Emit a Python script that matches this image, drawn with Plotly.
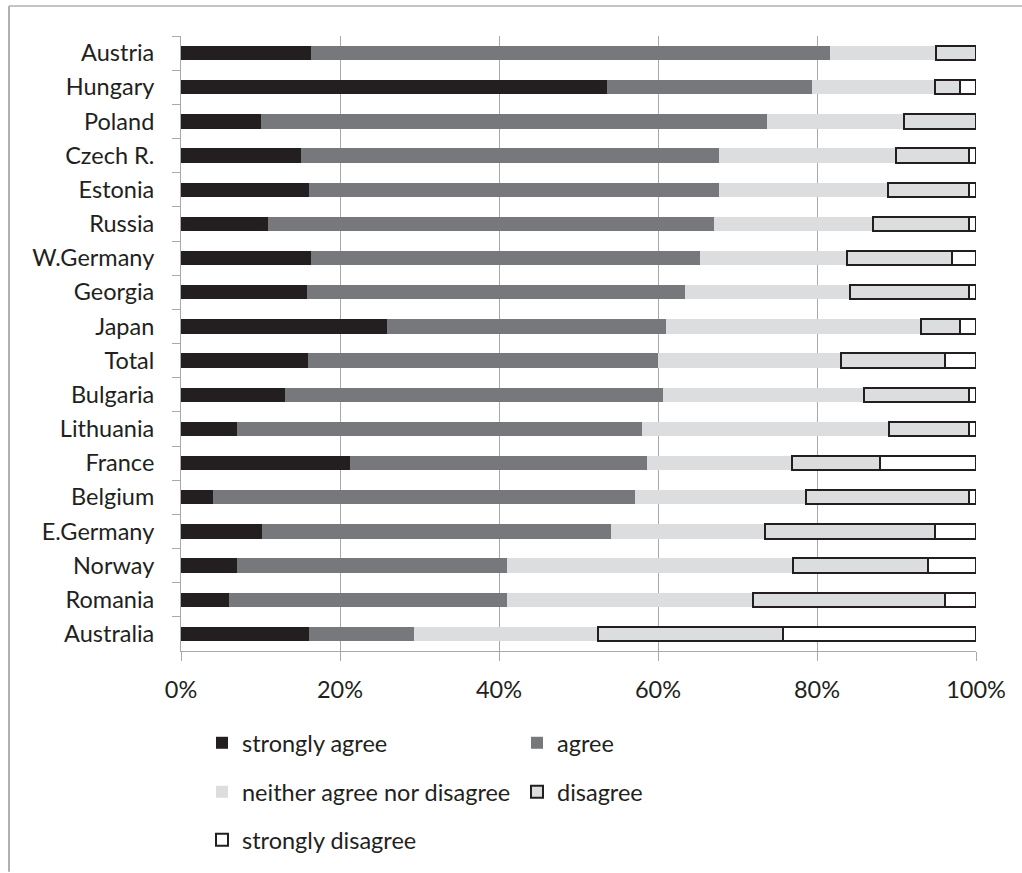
import plotly.graph_objects as go

countries = ["Austria", "Hungary", "Poland", "Czech R.", "Estonia", "Russia",
             "W.Germany", "Georgia", "Japan", "Total", "Bulgaria", "Lithuania",
             "France", "Belgium", "E.Germany", "Norway", "Romania", "Australia"]

strongly_agree = [16.3, 53.6, 10.1, 15.1, 16.1, 10.9, 16.3, 15.9, 25.9, 16.0,
                  13.1, 7.0, 21.3, 4.0, 10.2, 7.0, 6.0, 16.1]
agree = [65.3, 25.8, 63.6, 52.6, 51.6, 56.1, 49.0, 47.5, 35.1, 44.0,
         47.5, 51.0, 37.3, 53.1, 43.9, 34.0, 35.0, 13.2]
neither = [13.4, 15.5, 17.3, 22.2, 21.2, 20.0, 18.5, 20.7, 32.1, 23.0,
           25.3, 31.0, 18.2, 21.5, 19.4, 36.0, 31.0, 23.2]
disagree = [5.0, 3.1, 9.0, 9.2, 10.2, 12.1, 13.2, 15.0, 4.9, 13.1,
            13.2, 10.1, 11.1, 20.5, 21.4, 17.0, 24.1, 23.2]
strongly_disagree = [0.0, 2.0, 0.0, 0.9, 0.9, 0.9, 3.0, 0.9, 2.0, 3.9,
                     0.9, 0.9, 12.1, 0.9, 5.1, 6.0, 3.9, 24.3]

x_ticks = [0, 20, 40, 60, 80, 100]
x_tick_labels = ["0%", "20%", "40%", "60%", "80%", "100%"]

series = [
    ("strongly agree", strongly_agree, "#231f20", None, "legend"),
    ("agree", agree, "#77787b", None, "legend"),
    ("neither agree nor disagree", neither, "#dcdddf", None, "legend2"),
    ("disagree", disagree, "#dcdddf", "#231f20", "legend2"),
    ("strongly disagree", strongly_disagree, "#ffffff", "#231f20", "legend3"),
]

FONT = "Lato, 'Open Sans', sans-serif"
FS = 23.5
TXT = "#231f20"
GRID = "#a8a8a8"

fig = go.Figure()
for name, vals, color, line, lg in series:
    fig.add_trace(go.Bar(
        y=countries, x=vals, name=name, orientation="h",
        marker=dict(color=color,
                    line=dict(color=line if line else color, width=2 if line else 0)),
        legend=lg,
    ))

W, H = 1022, 873
L, R, T, B = 181, 46, 36, 221
pw, ph = W - L - R, H - T - B

def px_x(p):
    return (p - L) / pw

def px_y(p):
    return (H - B - p) / ph

legend_common = dict(orientation="h", xanchor="left", yanchor="middle",
                     traceorder="normal",
                     font=dict(family=FONT, size=FS, color=TXT),
                     entrywidth=270, bgcolor="rgba(0,0,0,0)", borderwidth=0)

fig.update_layout(
    width=W, height=H,
    margin=dict(l=L, r=R, t=T, b=B, pad=0),
    paper_bgcolor="white", plot_bgcolor="white",
    barmode="stack", bargap=0.58,
    font=dict(family=FONT, size=FS, color=TXT),
    showlegend=True,
    legend=dict(x=px_x(202), y=px_y(743), **legend_common),
    legend2=dict(x=px_x(202), y=px_y(792), **legend_common),
    legend3=dict(x=px_x(202), y=px_y(840), **legend_common),
    xaxis=dict(range=[0, 100], tickvals=x_ticks, ticktext=x_tick_labels,
               showgrid=True, gridcolor=GRID, gridwidth=1,
               showline=True, linecolor=GRID, linewidth=1,
               ticks="outside", ticklen=9, tickcolor=GRID,
               zeroline=False, ticklabelstandoff=9,
               tickfont=dict(family=FONT, size=FS, color=TXT)),
    yaxis=dict(categoryorder="array", categoryarray=countries,
               autorange="reversed", automargin=False,
               showline=True, linecolor=GRID, linewidth=1,
               ticks="outside", ticklen=8, tickcolor=GRID,
               tickson="boundaries", showgrid=False,
               ticklabelstandoff=21,
               tickfont=dict(family=FONT, size=FS, color=TXT)),
    shapes=[
        dict(type="line", xref="paper", yref="paper",
             x0=px_x(9), x1=px_x(9), y0=px_y(6), y1=px_y(873),
             line=dict(color="#b0b0b0", width=2)),
        dict(type="line", xref="paper", yref="paper",
             x0=px_x(9), x1=px_x(1022), y0=px_y(6), y1=px_y(6),
             line=dict(color="#b0b0b0", width=1.5)),
    ],
)

fig.write_html("out.html", config={"displayModeBar": False},
               post_script="document.body.style.margin='0';")
